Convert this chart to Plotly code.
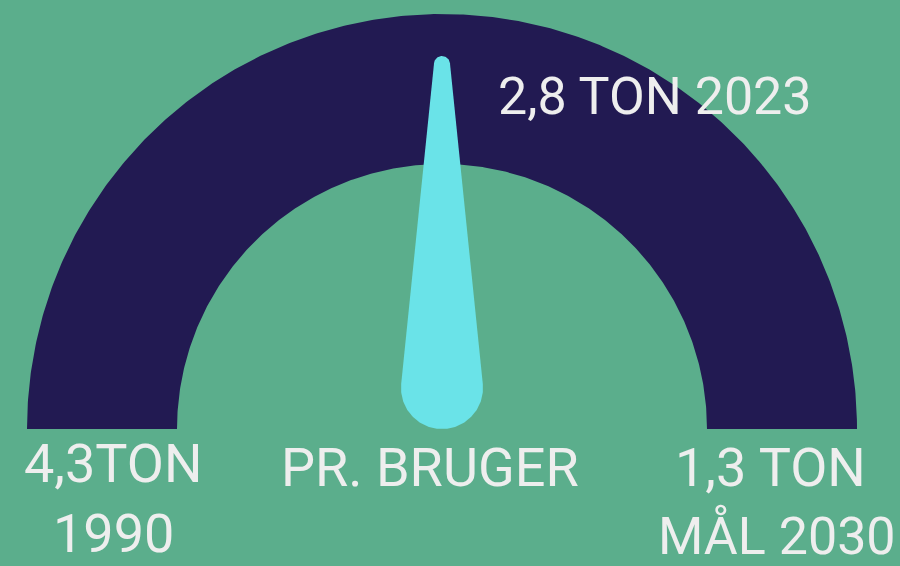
import numpy as np
import plotly.graph_objects as go

# gauge data
scale_start = 4.3   # ton, 1990
scale_end = 1.3     # ton, goal 2030
current = 2.8       # ton, 2023
labels = ["4,3TON", "1990", "PR. BRUGER", "1,3 TON", "MÅL 2030", "2,8 TON 2023"]

BG = "#5BAE8C"
ARC = "#221A52"
NEEDLE = "#6AE3E8"
TXT = "#EEEEEE"

W, H = 900, 566
cx, cy = 442, 429          # arc centre in px
r_out, r_in = 415, 265
pivot = (442, 388)         # needle base circle
r_base, r_tip, length = 41, 8, 324

fig = go.Figure()

# arc band
t = np.linspace(np.pi, 0, 400)
ax = np.concatenate([cx + r_out * np.cos(t), cx + r_in * np.cos(t[::-1])])
ay = np.concatenate([cy - r_out * np.sin(t), cy - r_in * np.sin(t[::-1])])
fig.add_trace(go.Scatter(x=ax, y=ay, fill="toself", fillcolor=ARC, mode="lines",
                         line=dict(width=0, color=ARC), hoverinfo="skip", showlegend=False))

# needle angle from value
frac = (scale_start - current) / (scale_start - scale_end)
ang = np.pi * (1 - frac)
ux, uy = np.cos(ang), -np.sin(ang)          # screen coords (y down)
tip = (pivot[0] + length * ux, pivot[1] + length * uy)
phi = np.arcsin((r_base - r_tip) / length)
d = np.arctan2(uy, ux)
a1 = d + np.pi / 2 - phi      # side tangent normals
a2 = d - np.pi / 2 + phi
ta = np.linspace(a1, a2, 40)                  # round tip (front)
ba = np.linspace(a2, a1 - 2 * np.pi, 120)     # round base (back)
nx = np.concatenate([tip[0] + r_tip * np.cos(ta), pivot[0] + r_base * np.cos(ba)])
ny = np.concatenate([tip[1] + r_tip * np.sin(ta), pivot[1] + r_base * np.sin(ba)])
fig.add_trace(go.Scatter(x=nx, y=ny, fill="toself", fillcolor=NEEDLE, mode="lines",
                         line=dict(width=0, color=NEEDLE), hoverinfo="skip", showlegend=False))

# text labels (pixel positions)
pos = [(113, 463), (113, 533), (430, 467), (770, 467), (777, 535), (655, 96)]
sizes = [54, 54, 54, 54, 52, 52]
for txt, (x, y), s in zip(labels, pos, sizes):
    fig.add_annotation(x=x, y=y, text=txt, showarrow=False, xanchor="center", yanchor="middle",
                       font=dict(family="Roboto", size=s, color=TXT))

fig.update_layout(width=W, height=H, margin=dict(l=0, r=0, t=0, b=0),
                  paper_bgcolor=BG, plot_bgcolor=BG,
                  xaxis=dict(range=[0, W], visible=False, fixedrange=True),
                  yaxis=dict(range=[H, 0], visible=False, fixedrange=True))

fig.write_html("out.html", config={"displayModeBar": False},
               post_script="document.body.style.margin='0';document.body.style.overflow='hidden';")
